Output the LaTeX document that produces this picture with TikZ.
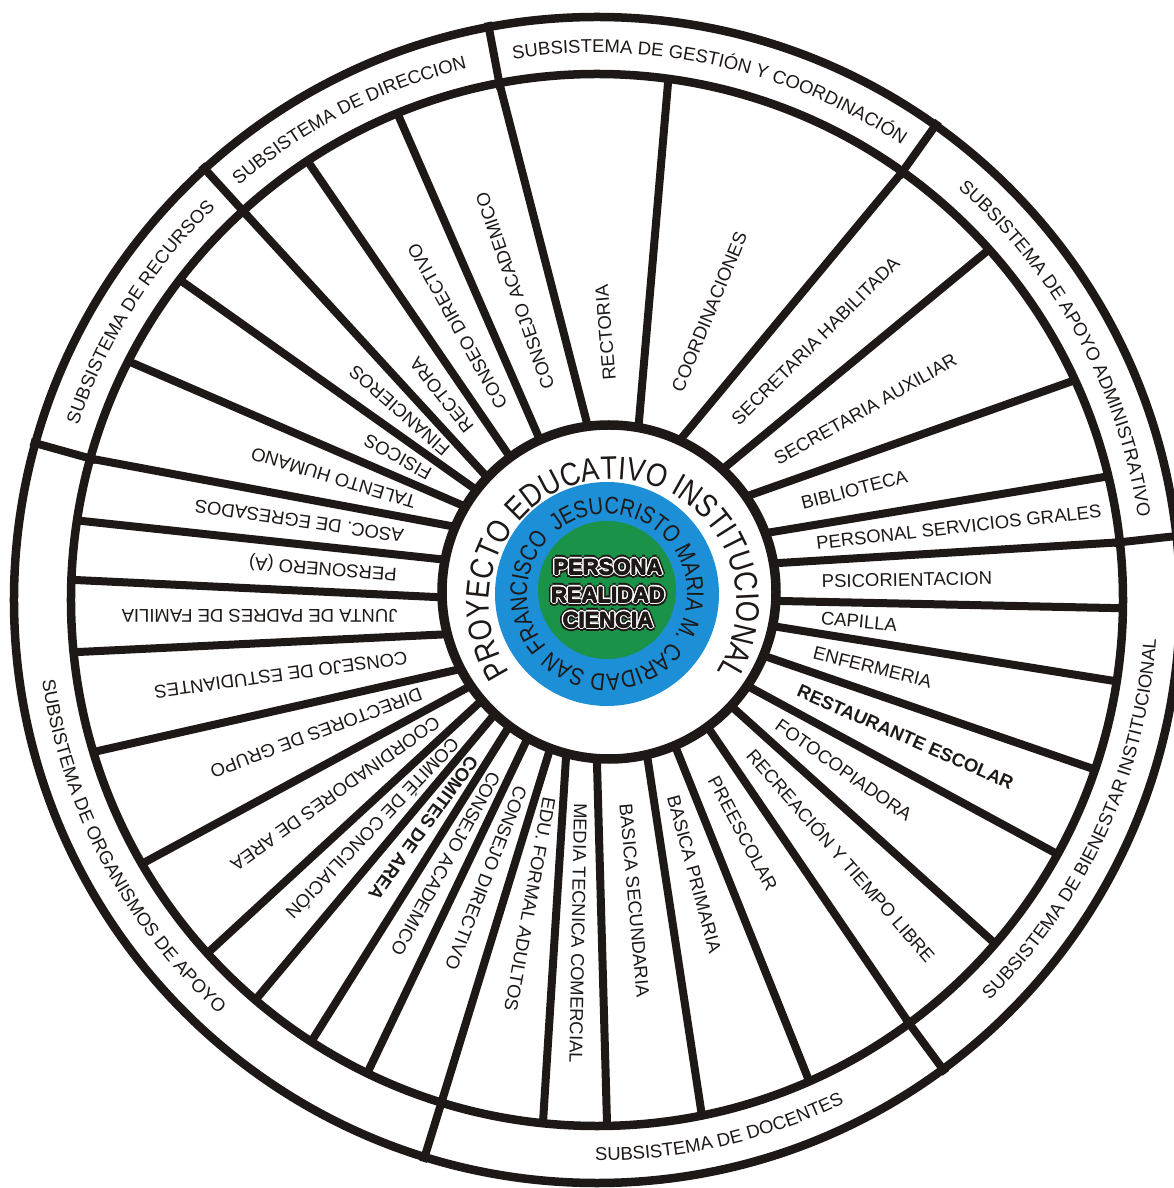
\documentclass[tikz,border=0pt]{standalone}
\usepackage{fontspec}
\setmainfont{Liberation Sans}
\newfontfamily\narrowfont[FakeStretch=0.84]{Liberation Sans}
\usetikzlibrary{calc,decorations.text}
\definecolor{ink}{RGB}{30,24,22}
\definecolor{pblue}{RGB}{28,143,214}
\definecolor{pgreen}{RGB}{26,146,72}
\newcommand\lblfont{\fontsize{18.5}{20}\selectfont}
\begin{document}
\begin{tikzpicture}[x=1pt,y=1pt,
  spoke/.style={draw=ink,line width=8pt},
  ringline/.style={draw=ink,line width=8.5pt},
  lbl/.style={font=\lblfont,inner sep=0pt,text height=13.3pt,text depth=0pt,anchor=west,text=ink},
  gtext/.style={font=\fontsize{22}{24}\selectfont\bfseries,inner sep=0pt}]

\useasboundingbox (-597,-588) rectangle (577,600);
\clip (-597,-588) rectangle (577,600);
\fill[white] (-597,-588) rectangle (577,600);

\coordinate (O) at (0,0);
\coordinate (P) at (12,8);

% spoke end points: k / inner angle (around P) / outer angle (around O)
\foreach \k/\b/\a in {1/97.5/100.7, 2/80/82.2, 3/64.6/54.5, 4/47/41.8, 5/34.4/24.7,
  6/20.3/13.6, 7/9.7/6.3, 8/-3/-0.9, 9/-11.7/-8.9, 10/-22.3/-18.8, 11/-34/-28.9,
  12/-43/-40.8, 13/-53.9/-53.6, 14/-66.8/-66.2, 15/-77/-78.5, 16/-94/-88.9,
  17/-104.5/-95.9, 18/-110.5/-107.2, 19/-119/-115.9, 20/-126.5/-122.9,
  21/-133/-130.5, 22/-139.5/-137.8, 23/-146/-149.9, 24/-153/-163.2,
  25/-165.7/-174.3, 26/181.7/177.8, 27/169/171.3, 28/157.4/164.4,
  29/149.5/153, 30/142.5/142.5, 31/136.6/132.3, 32/126.2/123.4, 33/114.4/112.3}{
  \coordinate (i\k) at ($(P)+(\b:172)$);
  \coordinate (o\k) at (\a:526);
}

% spokes
\foreach \k in {1,...,33}{
  \draw[spoke] ($(i\k)!-20pt!(o\k)$) -- (o\k);
}
% band separators
\foreach \a in {100.7,54.5,6.3,-53.6,-107.2,164.4,132.3}{
  \draw[spoke] (\a:520) -- (\a:588);
}

% rings
\draw[ringline] (O) circle[radius=583];
\draw[ringline] (O) circle[radius=526];
\draw[ringline,line width=9.5pt,fill=white] (P) circle[radius=167];
\fill[pblue] (10,6) circle[radius=112];
\fill[pgreen] (10,10) circle[radius=69];

% sector labels
\foreach \k/\kk/\w/\txt in {1/2/\mdseries/RECTORIA, 2/3/\mdseries/COORDINACIONES,
  3/4/\mdseries/SECRETARIA HABILITADA, 4/5/\mdseries/SECRETARIA AUXILIAR,
  5/6/\mdseries/BIBLIOTECA, 6/7/\mdseries/PERSONAL SERVICIOS GRALES,
  7/8/\mdseries/PSICORIENTACION, 8/9/\mdseries/CAPILLA, 9/10/\mdseries/ENFERMERIA,
  10/11/\bfseries/RESTAURANTE ESCOLAR, 11/12/\mdseries/FOTOCOPIADORA,
  12/13/\mdseries/RECREACIÓN Y TIEMPO LIBRE, 13/14/\mdseries/PREESCOLAR,
  14/15/\mdseries/BASICA PRIMARIA, 15/16/\mdseries/BASICA SECUNDARIA,
  16/17/\mdseries/MEDIA TECNICA COMERCIAL, 17/18/\mdseries/EDU. FORMAL ADULTOS,
  18/19/\mdseries/CONSEJO DIRECTIVO, 19/20/\mdseries/CONSEJO ACADEMICO,
  20/21/\bfseries/COMITES DE AREA, 21/22/\mdseries/COMITÉ DE CONCILIACIÓN,
  22/23/\mdseries/COORDINADORES DE AREA, 23/24/\mdseries/DIRECTORES DE GRUPO,
  24/25/\mdseries/CONSEJO DE ESTUDIANTES, 25/26/\mdseries/JUNTA DE PADRES DE FAMILIA,
  26/27/\mdseries/PERSONERO (A), 27/28/\mdseries/ASOC. DE EGRESADOS,
  28/29/\mdseries/TALENTO HUMANO, 29/30/\mdseries/FISICOS, 30/31/\mdseries/FINANCIEROS,
  31/32/\mdseries/RECTORA, 32/33/\mdseries/CONSEO DIRECTIVO, 33/1/\mdseries/CONSEJO ACADEMICO}{
  \path let \p1=($(i\k)!0.5!(i\kk)$), \p2=($(o\k)!0.5!(o\kk)$),
    \n1={atan2(\y2-\y1,\x2-\x1)} in
    node[lbl,rotate=\n1] (L\k) at ($(\p1)+(\n1:42)$) {\w\txt};
}

% band labels (upper: clockwise, lower: counter-clockwise)
\foreach \m/\txt in {147.8/SUBSISTEMA DE RECURSOS, 117.3/SUBSISTEMA DE DIRECCION,
  77.5/SUBSISTEMA DE GESTIÓN Y COORDINACIÓN, 28.7/SUBSISTEMA DE APOYO ADMINISTRATIVO}{
  \path[decorate,decoration={text along path,text align=center,
    text={|\lblfont\color{ink}|\txt}}]
    (\m+32:547.4) arc[start angle=\m+32,end angle=\m-32,radius=547.4];
}
\foreach \m/\txt in {-24.8/SUBSISTEMA DE BIENESTAR INSTITUCIONAL,
  -77/SUBSISTEMA DE DOCENTES, 207.9/SUBSISTEMA DE ORGANISMOS DE APOYO}{
  \path[decorate,decoration={text along path,text align=center,
    text={|\lblfont\color{ink}|\txt}}]
    (\m-32:560.6) arc[start angle=\m-32,end angle=\m+32,radius=560.6];
}

% PEI ring text
\begin{scope}[shift={(16,-3)}]
  \path[decorate,decoration={text along path,text align={fit to path},
    text={|\narrowfont\fontsize{32.5}{34}\selectfont\color{ink}|PROYECTO EDUCATIVO INSTITUCIONAL}}]
    (214:124) arc[start angle=214,end angle=-33,radius=124];
\end{scope}

% blue ring text
\begin{scope}[shift={(10,6)}]
  \path[decorate,decoration={text along path,text align={fit to path},
    text={|\narrowfont\fontsize{24}{26}\selectfont\color{ink}|JESUCRISTO MARIA M. CARIDAD SAN FRANCISCO}}]
    (129:80) arc[start angle=129,end angle=-224,radius=80];
\end{scope}

% green centre words with outline
\foreach \txt/\yy in {PERSONA/33, REALIDAD/5, CIENCIA/-20}{
  \foreach \a in {0,45,...,315}{
    \node[gtext,text=ink] at ($(11,\yy)+(\a:3.6)$) {\txt};
  }
  \foreach \a in {0,45,...,315}{
    \node[gtext,text=white] at ($(11,\yy)+(\a:2.0)$) {\txt};
  }
  \foreach \a in {0,90,180,270}{
    \node[gtext,text=ink] at ($(11,\yy)+(\a:0.5)$) {\txt};
  }
  \node[gtext,text=ink] (G\txt) at (11,\yy) {\txt};
}
\end{tikzpicture}
\end{document}
